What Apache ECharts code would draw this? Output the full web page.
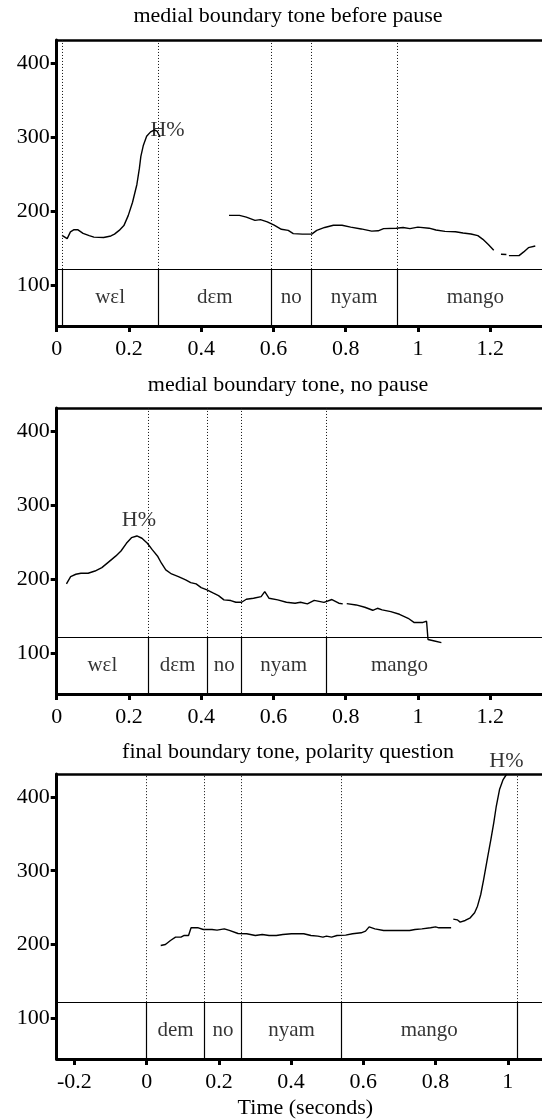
<!DOCTYPE html>
<html>
<head>
<meta charset="utf-8">
<script src="https://cdn.jsdelivr.net/npm/echarts@6/dist/echarts.min.js"></script>
<style>
  html, body { margin: 0; padding: 0; background: #fff; }
  #chart { width: 542px; height: 1120px; }
</style>
</head>
<body>
<div id="chart"></div>
<script>
// ---- Pitch tracks (time in s, F0 in Hz); null marks an unvoiced gap ----
const pitchBeforePause = [
  [0.0147,167.4],[0.029,163],[0.038,172],[0.048,175],[0.058,175],[0.073,170],[0.09,167],
  [0.103,165],[0.13,164.5],[0.15,166.5],[0.16,169],[0.173,174],[0.186,180.5],[0.198,194],
  [0.21,212],[0.222,236],[0.229,258],[0.233,274],[0.24,289],[0.249,301],[0.26,307],
  [0.27,309.5],[0.278,308],[0.286,300],
  null,
  [0.477,194.3],[0.506,194.3],[0.525,192],[0.549,187.6],[0.564,188.5],[0.583,185.5],
  [0.602,181],[0.622,175.5],[0.641,174],[0.655,169.7],[0.68,169],[0.706,169],[0.72,174],
  [0.742,178],[0.766,181],[0.79,181],[0.814,178.5],[0.843,176],[0.872,173],[0.89,173.5],
  [0.905,176.4],[0.94,177],[0.959,178],[0.978,176.5],[1.0,178.5],[1.031,177],[1.05,174.5],
  [1.075,172.7],[1.104,172.2],[1.125,170.5],[1.147,169.2],[1.166,167],[1.18,162],
  [1.195,155],[1.21,147.2],
  null,
  [1.23,141.8],[1.245,141.5],
  null,
  [1.252,140],[1.28,140],[1.293,145],[1.306,150.7],[1.325,153]
];

const pitchNoPause = [
  [0.027,193.6],[0.0386,203.5],[0.053,206.6],[0.067,208],[0.087,208],[0.106,211],
  [0.125,215.6],[0.145,223.7],[0.164,231.4],[0.178,238],[0.193,248.4],[0.207,256],
  [0.222,258.3],[0.236,255.2],[0.251,248.4],[0.265,239.5],[0.28,230.5],[0.29,221.5],
  [0.302,212.5],[0.318,207],[0.337,203.5],[0.357,199],[0.371,195.4],[0.386,193.6],
  [0.4,188.6],[0.416,185.5],[0.434,181],[0.448,177.8],[0.463,172],[0.482,171.1],
  [0.496,168.8],[0.512,168.8],[0.525,172.9],[0.545,174.2],[0.566,176.5],[0.576,183.2],
  [0.588,174.2],[0.612,172],[0.636,168.8],[0.66,167.5],[0.675,168.8],[0.694,166.6],
  [0.713,171.3],[0.74,168.6],[0.762,172.5],[0.781,167.5],[0.792,166.6],
  null,
  [0.803,167],[0.829,165.2],[0.853,162.1],[0.875,158],[0.888,160.7],[0.901,158.5],
  [0.925,156.2],[0.949,152.6],[0.973,147.2],[0.99,141.4],[1.014,141.6],[1.024,143.2],
  [1.028,118.5],[1.046,116.6],[1.065,114.4]
];

const pitchQuestion = [
  [0.039,198.8],[0.052,200.1],[0.066,205.5],[0.08,210],[0.095,210],[0.104,212.3],
  [0.116,212.3],[0.123,222.7],[0.143,222.7],[0.157,220.4],[0.181,220.4],[0.195,219.5],
  [0.215,221.3],[0.229,219.1],[0.253,215],[0.277,214.6],[0.301,212.3],[0.32,213.7],
  [0.339,212.3],[0.359,212.3],[0.377,213.7],[0.401,214.6],[0.435,214.6],[0.455,212.3],
  [0.474,211.4],[0.488,210],[0.498,211.4],[0.512,210],[0.527,212.3],[0.551,212.8],
  [0.57,214.6],[0.594,215.9],[0.606,218.2],[0.616,224],[0.632,221.3],[0.656,219.1],
  [0.695,219.1],[0.728,219.1],[0.743,220.4],[0.762,221.3],[0.786,222.7],[0.8,224],
  [0.809,222.7],[0.843,222.7],
  null,
  [0.849,234.5],[0.86,233.5],[0.868,230.4],[0.882,232.6],[0.896,236.2],[0.908,243],
  [0.916,252],[0.925,267.8],[0.933,288],[0.944,318],[0.953,342],[0.961,364.8],
  [0.968,387.3],[0.977,409.9],[0.987,423.4],[0.997,431]
];

// ---- Word tier: boundary times, words and their spans ----
const boundsBeforePause = [0.0147, 0.281, 0.594, 0.705, 0.942];
const wordsBeforePause  = ['wɛl', 'dɛm', 'no', 'nyam', 'mango'];
const spansBeforePause  = [[0.0147,0.281],[0.281,0.594],[0.594,0.705],[0.705,0.942],[0.942,1.376]];

const boundsNoPause = [0.2525, 0.4164, 0.5118, 0.745];
const wordsNoPause  = ['wɛl', 'dɛm', 'no', 'nyam', 'mango'];
const spansNoPause  = [[0,0.2525],[0.2525,0.4164],[0.4164,0.5118],[0.5118,0.745],[0.745,1.153]];

const boundsQuestion = [0, 0.16, 0.263, 0.539, 1.026];
const wordsQuestion  = ['dem', 'no', 'nyam', 'mango'];
const spansQuestion  = [[0,0.16],[0.16,0.263],[0.263,0.539],[0.539,1.026]];

// ---- Boundary-tone annotations [time, F0] ----
const toneLabel = 'H%';
const toneBeforePause = [0.307, 309];
const toneNoPause     = [0.2275, 279];
const toneQuestion    = [0.996, 448];

// ---- Titles and axes ----
const panelTitles = [
  'medial boundary tone before pause',
  'medial boundary tone, no pause',
  'final boundary tone, polarity question'
];
const xTicksA = [0, 0.2, 0.4, 0.6, 0.8, 1, 1.2];
const xTicksB = [-0.2, 0, 0.2, 0.4, 0.6, 0.8, 1];
const yTicks  = [100, 200, 300, 400];
const xRangeA = [0, 1.3436];
const xRangeB = [-0.249, 1.0946];
const yRange  = [45, 431];
const tierTop = 122;          // F0 level where the word tier ends
const xAxisTitle = 'Time (seconds)';

// ---- Layout ----
const FONT = '"Liberation Serif", "Times New Roman", serif';
const GRID_LEFT = 56.7;
const GRID_H = 286;
const gridTops = [40, 408, 774];
const titleY = [16, 385, 752];
const titleX = 288;

const panels = [
  { pitch: pitchBeforePause, bounds: boundsBeforePause, words: wordsBeforePause, spans: spansBeforePause, tone: toneBeforePause, ticks: xTicksA, range: xRangeA },
  { pitch: pitchNoPause, bounds: boundsNoPause, words: wordsNoPause, spans: spansNoPause, tone: toneNoPause, ticks: xTicksA, range: xRangeA },
  { pitch: pitchQuestion, bounds: boundsQuestion, words: wordsQuestion, spans: spansQuestion, tone: toneQuestion, ticks: xTicksB, range: xRangeB, axisName: xAxisTitle }
];

function splitSegments(track) {
  const segs = [];
  let cur = [];
  track.forEach(p => {
    if (p === null) { if (cur.length) segs.push(cur); cur = []; }
    else cur.push(p);
  });
  if (cur.length) segs.push(cur);
  return segs;
}

const grids = [], xAxes = [], yAxes = [], series = [];
const textStyle = { color: '#000', fontFamily: FONT };

panels.forEach((pn, i) => {
  grids.push({ left: GRID_LEFT, right: 0, top: gridTops[i], height: GRID_H });

  // bottom time axis
  xAxes.push({
    type: 'value', gridIndex: i, position: 'bottom',
    min: pn.range[0], max: pn.range[1],
    axisLine: { show: true, onZero: false, lineStyle: { color: '#000', width: 3 } },
    axisTick: { show: true, length: 6, customValues: pn.ticks, lineStyle: { color: '#000', width: 3 } },
    axisLabel: { show: true, customValues: pn.ticks, fontSize: 22, margin: 12, ...textStyle },
    splitLine: { show: false },
    name: pn.axisName || '',
    nameLocation: 'middle', nameGap: 38,
    nameTextStyle: { fontSize: 22, padding: [0, 0, 0, 12], ...textStyle }
  });
  // top frame line
  xAxes.push({
    type: 'value', gridIndex: i, position: 'top',
    min: pn.range[0], max: pn.range[1],
    axisLine: { show: true, onZero: false, lineStyle: { color: '#000', width: 2.5 } },
    axisTick: { show: false }, axisLabel: { show: false }, splitLine: { show: false }
  });
  yAxes.push({
    type: 'value', gridIndex: i,
    min: yRange[0], max: yRange[1],
    axisLine: { show: true, onZero: false, lineStyle: { color: '#000', width: 3 } },
    axisTick: { show: true, length: 6, customValues: yTicks, lineStyle: { color: '#000', width: 3 } },
    axisLabel: { show: true, customValues: yTicks, fontSize: 22, margin: 7, ...textStyle },
    splitLine: { show: false }
  });

  const xi = i * 2;

  // word tier frame: separator, solid boundaries below, dotted guides above
  const tierLines = [
    [{ coord: [pn.range[0], tierTop], lineStyle: { type: 'solid', color: '#000', width: 1.2 } },
     { coord: [pn.range[1], tierTop] }]
  ];
  pn.bounds.forEach(b => {
    tierLines.push([{ coord: [b, yRange[0]], lineStyle: { type: 'solid', color: '#000', width: 1.2 } },
                    { coord: [b, tierTop] }]);
    tierLines.push([{ coord: [b, tierTop], lineStyle: { type: [1, 2], color: '#111', width: 1 } },
                    { coord: [b, yRange[1]] }]);
  });

  splitSegments(pn.pitch).forEach((seg, k) => {
    const s = {
      type: 'line', xAxisIndex: xi, yAxisIndex: i, data: seg,
      symbol: 'none', showSymbol: false, silent: true,
      lineStyle: { color: '#000', width: 1.4 }, clip: true
    };
    if (k === 0) {
      s.markLine = {
        silent: true, symbol: ['none', 'none'], label: { show: false },
        animation: false, data: tierLines
      };
    }
    series.push(s);
  });

  // word labels centred in their spans
  series.push({
    type: 'scatter', xAxisIndex: xi, yAxisIndex: i, silent: true, clip: false,
    symbolSize: 1, itemStyle: { color: 'rgba(0,0,0,0)' },
    data: pn.words.map((w, k) => ({
      name: w,
      value: [(pn.spans[k][0] + pn.spans[k][1]) / 2, (yRange[0] + tierTop) / 2]
    })),
    label: { show: true, position: 'inside', formatter: '{b}', fontSize: 21, ...textStyle }
  });

  // boundary tone annotation
  series.push({
    type: 'scatter', xAxisIndex: xi, yAxisIndex: i, silent: true, clip: false,
    symbolSize: 1, itemStyle: { color: 'rgba(0,0,0,0)' },
    data: [{ name: toneLabel, value: pn.tone }],
    label: { show: true, position: 'inside', formatter: '{b}', fontSize: 22, ...textStyle }
  });
});

const chart = echarts.init(document.getElementById('chart'), null, { renderer: 'canvas' });
chart.setOption({
  animation: false,
  backgroundColor: '#fff',
  grid: grids,
  xAxis: xAxes,
  yAxis: yAxes,
  series: series,
  graphic: panelTitles.map((t, i) => ({
    type: 'text', x: titleX, y: titleY[i], silent: true,
    style: { text: t, fontSize: 22, fontFamily: FONT, fill: '#000', align: 'center', verticalAlign: 'middle' }
  }))
});
</script>
</body>
</html>
